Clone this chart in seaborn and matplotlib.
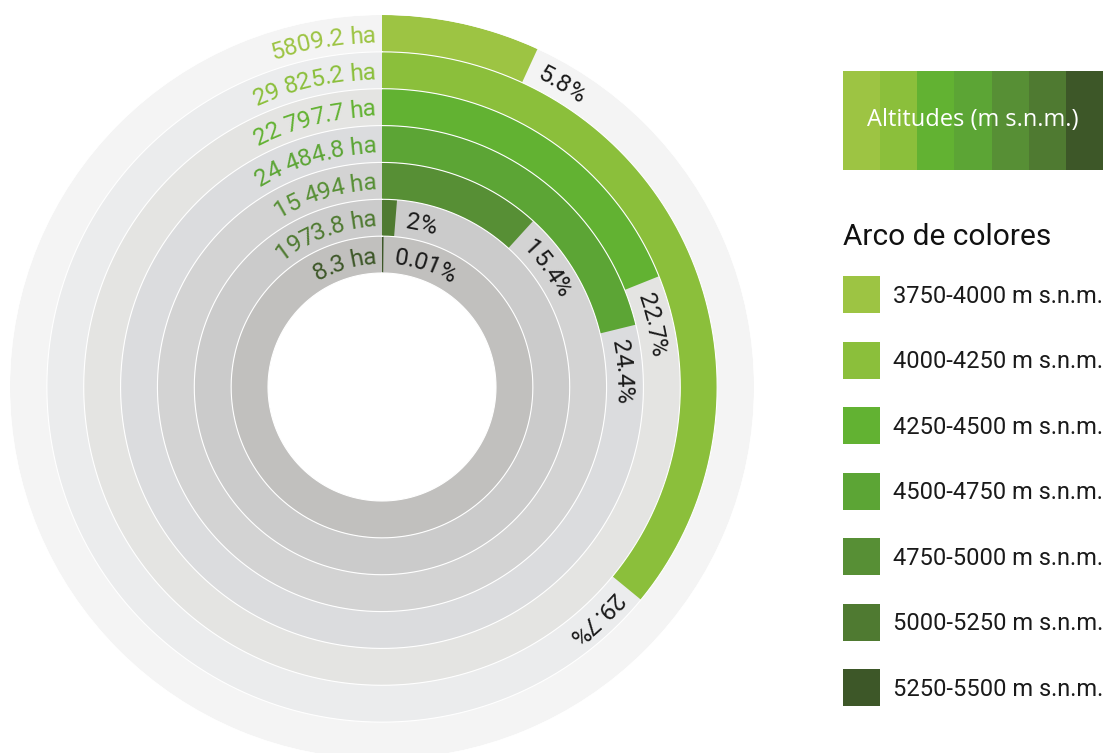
import numpy as np
import matplotlib
matplotlib.use("Agg")
import matplotlib.pyplot as plt
import seaborn as sns
from matplotlib.colors import ListedColormap
from matplotlib.font_manager import FontProperties, findfont, get_font
from matplotlib.patches import Rectangle

# ---------------- data (outer ring first) ----------------
altitude_ranges = ["3750-4000 m s.n.m.", "4000-4250 m s.n.m.", "4250-4500 m s.n.m.",
                   "4500-4750 m s.n.m.", "4750-5000 m s.n.m.", "5000-5250 m s.n.m.",
                   "5250-5500 m s.n.m."]
area_labels = ["5809.2 ha", "29 825.2 ha", "22 797.7 ha", "24 484.8 ha",
               "15 494 ha", "1973.8 ha", "8.3 ha"]
area_ha = [5809.2, 29825.2, 22797.7, 24484.8, 15494.0, 1973.8, 8.3]
pct_labels = ["5.8%", "29.7%", "22.7%", "24.4%", "15.4%", "2%", "0.01%"]
# arc sweep of each bar (degrees, clockwise from 12 o'clock)
arc_sweep_deg = [24.7, 129.4, 68.2, 76.2, 42.3, 4.6, 0.6]
green_colors = ["#9dc443", "#8bbf3b", "#62b232", "#5ca535", "#578f35", "#4f7a31", "#3d5728"]
label_colors = ["#9dc443", "#8bbf3b", "#62b232", "#5ca535", "#578f35", "#4f7a31", "#3d5728"]
ring_grays = ["#f4f4f4", "#ebeced", "#e4e4e2", "#dbdcde", "#d3d3d3", "#cbcbcb", "#c1c0be"]
strip_title = "Altitudes (m s.n.m.)"
legend_title = "Arco de colores"

# ---------------- layout ----------------
W, H, DPI = 1107, 753, 100
sns.set_theme(style="white")
plt.rcParams['font.family'] = ['Roboto', 'DejaVu Sans']

fig = plt.figure(figsize=(W / DPI, H / DPI), dpi=DPI)
fig.patch.set_facecolor("white")


def fig_rect(x0, y0, w, h):
    return [x0 / W, 1 - (y0 + h) / H, w / W, h / H]


cx, cy = 382, 387
R_OUT, R_IN = 372, 114
n = len(area_ha)
ring_w = (R_OUT - R_IN) / n

ax = fig.add_axes(fig_rect(cx - R_OUT, cy - R_OUT, 2 * R_OUT, 2 * R_OUT), projection="polar")
ax.set_theta_zero_location("N")
ax.set_theta_direction(-1)
ax.set_ylim(0, R_OUT)
ax.axis("off")

for i in range(n):
    r0 = R_OUT - (i + 1) * ring_w
    ax.bar(0, ring_w, width=2 * np.pi, bottom=r0, color=ring_grays[i], align="edge",
           linewidth=0, zorder=1)
    ax.bar(0, ring_w, width=np.deg2rad(arc_sweep_deg[i]), bottom=r0, color=green_colors[i],
           align="edge", linewidth=0, zorder=2)

th = np.linspace(0, 2 * np.pi, 1440)
for i in range(1, n + 1):
    ax.plot(th, np.full_like(th, R_OUT - i * ring_w), color="white", lw=0.8, zorder=3)


def advances(s, fp):
    font = get_font(findfont(fp))
    font.set_size(fp.get_size_in_points(), DPI)
    out = []
    for ch in s:
        g = font.load_char(ord(ch))
        out.append(g.linearHoriAdvance / 65536.0)
    return out


def curved_text(s, theta_start, r_mid, fp, color):
    adv = advances(s, fp)
    fs_px = fp.get_size_in_points() * DPI / 72
    r_base = r_mid - 0.36 * fs_px
    cum = 0.0
    for ch, a in zip(s, adv):
        t = theta_start + (cum + a / 2) / r_mid
        cum += a
        if ch == " ":
            continue
        ax.text(t, r_base, ch, rotation=-np.degrees(t), rotation_mode="anchor",
                ha="center", va="baseline", fontproperties=fp, color=color, zorder=5)
    return cum


fp_ring = FontProperties(family="Roboto", size=17.5)
fp_pct = FontProperties(family="Roboto", size=17.5)
for i in range(n):
    r_mid = R_OUT - (i + 0.5) * ring_w
    total = sum(advances(area_labels[i], fp_ring))
    end = -6.0 / r_mid
    curved_text(area_labels[i], end - total / r_mid, r_mid, fp_ring, label_colors[i])
    start = np.deg2rad(arc_sweep_deg[i]) + 11.0 / r_mid
    curved_text(pct_labels[i], start, r_mid, fp_pct, "#1a1a1a")

# ---------------- colour strip (heatmap) ----------------
ax_strip = fig.add_axes(fig_rect(843, 71, 260, 99))
sns.heatmap(np.arange(len(green_colors))[None, :], cmap=ListedColormap(green_colors),
            cbar=False, xticklabels=False, yticklabels=False, ax=ax_strip, linewidths=0)
ax_strip.text(0.5, 0.5, strip_title, transform=ax_strip.transAxes, ha="center",
              va="center", color="white", fontsize=17, family=["Open Sans", "DejaVu Sans"])

# ---------------- legend ----------------
ax_ov = fig.add_axes([0, 0, 1, 1])
ax_ov.set_xlim(0, W)
ax_ov.set_ylim(H, 0)
ax_ov.axis("off")
ax_ov.text(843, 245, legend_title, ha="left", va="baseline", fontsize=21.5, color="#111111",
           family=["Roboto", "DejaVu Sans"])
fs_leg = 17
for i, lab in enumerate(altitude_ranges):
    yc = 294.5 + i * 65.5
    ax_ov.add_patch(Rectangle((843, yc - 18.5), 37, 37, color=green_colors[i], lw=0))
    ax_ov.text(893, yc + 0.355 * fs_leg * DPI / 72, lab, ha="left", va="baseline",
               fontsize=fs_leg, color="#1a1a1a", family=["Roboto", "DejaVu Sans"])

fig.savefig("out.png", dpi=DPI)
